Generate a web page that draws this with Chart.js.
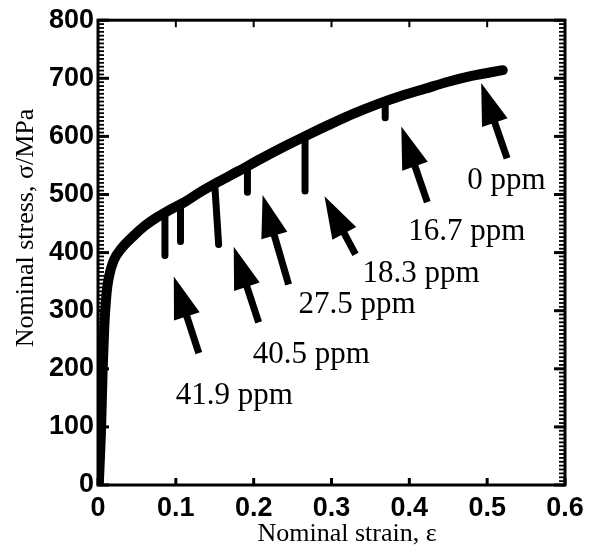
<!DOCTYPE html>
<html><head><meta charset="utf-8">
<script src="https://cdn.jsdelivr.net/npm/chart.js@4.4.1/dist/chart.umd.min.js"></script>
<style>html,body{margin:0;padding:0;background:#fff}#wrap{width:595px;height:555px}</style>
</head><body><div id="wrap"><canvas id="c" width="595" height="555"></canvas></div>
<script>
// ---- data ----
const strain = [0.001,0.004,0.006,0.008,0.011,0.014,0.02,0.03,0.045,0.06,0.075,0.09,0.11,0.13,0.155,0.18,0.21,0.24,0.27,0.30,0.33,0.36,0.39,0.42,0.45,0.48,0.52];
const stress = [0,100,200,270,330,358,386,407,428,446,460,472,486,503,522,540,562,583,603,622,640,656,670,682,694,704,714];
const dropStrainTop = [0.086,0.106,0.150,0.192,0.266,0.369];
const dropStrainBottom = [0.086,0.106,0.155,0.192,0.266,0.369];
const dropTop = [468,483,517,550,600,660];
const dropBottom = [395,419,414,504,506,632];
const xTickLabels = ['0','0.1','0.2','0.3','0.4','0.5','0.6'];
const yTickLabels = ['0','100','200','300','400','500','600','700','800'];
const ppmLabels = ['0 ppm','16.7 ppm','18.3 ppm','27.5 ppm','40.5 ppm','41.9 ppm'];
const labelX = [0.4744,0.3987,0.3397,0.2577,0.1987,0.1000];
const labelY = [509,422,350,296,210,140];
const arrowTipX = [0.4923,0.3897,0.2910,0.2115,0.1744,0.0974];
const arrowTipY = [692,617,497,499,410,359];
const arrowTailX = [0.5256,0.4231,0.3308,0.2449,0.2064,0.1295];
const arrowTailY = [562,487,397,345,280,227];
const xTitle = 'Nominal strain, ε';
const yTitle = 'Nominal stress, σ/MPa';

const datasets = [{
  data: strain.map((x,i)=>({x, y: stress[i]})),
  showLine: true, borderColor:'#000', backgroundColor:'#000', borderWidth: 10,
  pointRadius: 0, cubicInterpolationMode:'monotone', borderCapStyle:'round', borderJoinStyle:'round'
}];
dropStrainTop.forEach((x,i)=>{
  datasets.push({
    data:[{x, y: dropTop[i]},{x: dropStrainBottom[i], y: dropBottom[i]}],
    showLine:true, borderColor:'#000', borderWidth:7, pointRadius:0, borderCapStyle:'round'
  });
});

const serif = '"Liberation Serif","Times New Roman",serif';
const sans = '"Liberation Sans",Arial,sans-serif';

const decor = {
  id:'decor',
  afterDraw(chart){
    const ctx = chart.ctx, a = chart.chartArea, xs = chart.scales.x, ys = chart.scales.y;
    ctx.save();
    ctx.strokeStyle = '#000'; ctx.fillStyle = '#000'; ctx.lineCap = 'butt';
    const ln = (x1,y1,x2,y2,w)=>{ctx.lineWidth=w;ctx.beginPath();ctx.moveTo(x1,y1);ctx.lineTo(x2,y2);ctx.stroke();};
    // minor y ticks
    const nMinor = 15;
    for (let k=0;k<=8*nMinor;k++){
      if (k % nMinor === 0) continue;
      const py = ys.getPixelForValue(k*100/nMinor);
      ln(a.left, py, a.left+6, py, 1.8);
      ln(a.right, py, a.right-6, py, 1.8);
    }
    // major y ticks
    ys.ticks.forEach(t=>{
      const py = ys.getPixelForValue(t.value);
      ln(a.left, py, a.left+11, py, 3);
      ln(a.right, py, a.right-11, py, 3);
    });
    // major x ticks
    xs.ticks.forEach(t=>{
      const px = xs.getPixelForValue(t.value);
      ln(px, a.bottom, px, a.bottom-7, 3);
      ln(px, a.top, px, a.top+7, 2);
    });
    // frame
    ctx.lineWidth = 3;
    ctx.strokeRect(a.left, a.top, a.right-a.left, a.bottom-a.top);
    // arrows
    arrowTipX.forEach((tx,i)=>{
      const x1 = xs.getPixelForValue(arrowTailX[i]), y1 = ys.getPixelForValue(arrowTailY[i]);
      const x2 = xs.getPixelForValue(tx), y2 = ys.getPixelForValue(arrowTipY[i]);
      const dx = x2-x1, dy = y2-y1, L = Math.hypot(dx,dy), ux = dx/L, uy = dy/L;
      const HL = 42, HW = 13.5;
      const bx = x2 - ux*HL, by = y2 - uy*HL;
      ln(x1, y1, bx+ux*2, by+uy*2, 7);
      ctx.beginPath();
      ctx.moveTo(x2,y2);
      ctx.lineTo(bx - uy*HW, by + ux*HW);
      ctx.lineTo(bx + uy*HW, by - ux*HW);
      ctx.closePath(); ctx.fill();
    });
    // labels
    ctx.font = '31px ' + serif;
    ctx.textAlign = 'left'; ctx.textBaseline = 'alphabetic';
    ppmLabels.forEach((s,i)=>{
      ctx.fillText(s, xs.getPixelForValue(labelX[i]), ys.getPixelForValue(labelY[i]));
    });
    // axis titles
    ctx.font = '26px ' + serif;
    ctx.textAlign = 'center';
    ctx.fillText(xTitle, 347, 541);
    ctx.save();
    ctx.translate(33, 228);
    ctx.rotate(-Math.PI/2);
    ctx.fillText(yTitle, 0, 0);
    ctx.restore();
    ctx.restore();
  }
};

new Chart(document.getElementById('c'), {
  type:'scatter',
  data:{datasets},
  options:{
    responsive:false, animation:false, devicePixelRatio:1,
    layout:{padding:{top:17,right:30,left:0,bottom:0}},
    plugins:{legend:{display:false}, tooltip:{enabled:false}},
    scales:{
      x:{type:'linear', min:0, max:0.6,
        ticks:{stepSize:0.1, autoSkip:false, maxRotation:0, padding:7, color:'#000',
          font:{family:sans, size:27, weight:'bold'}, callback:(v,i)=>xTickLabels[i]},
        grid:{display:false, drawTicks:false}, border:{display:false},
        afterFit:s=>{s.height=70;}},
      y:{type:'linear', min:0, max:800,
        ticks:{stepSize:100, autoSkip:false, padding:4, color:'#000',
          font:{family:sans, size:27, weight:'bold'}, callback:(v,i)=>yTickLabels[i]},
        grid:{display:false, drawTicks:false}, border:{display:false},
        afterFit:s=>{s.width=98;}}
    }
  },
  plugins:[decor]
});
</script></body></html>
